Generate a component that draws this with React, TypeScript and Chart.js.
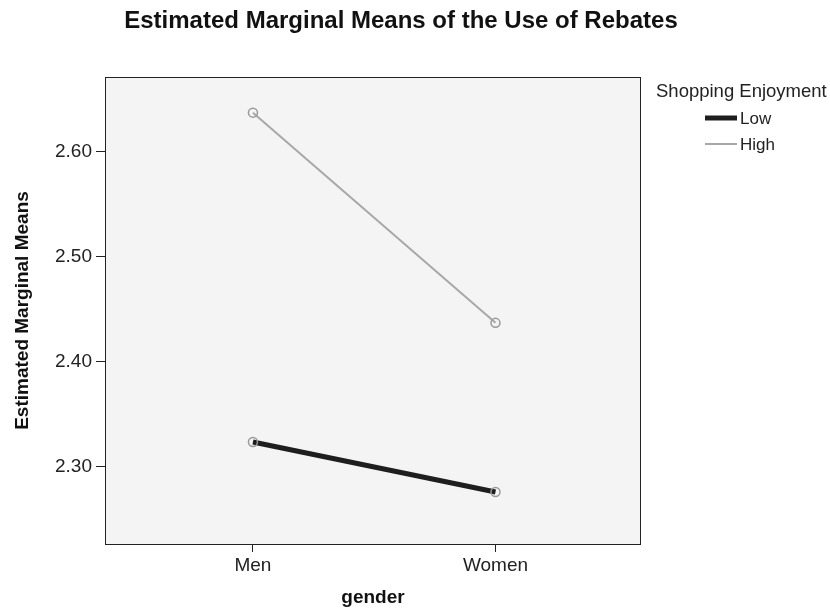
import React, { useEffect, useRef } from "react";
import { Chart, registerables } from "chart.js";

Chart.register(...registerables);

const categories = ["Men", "Women"];
const lowValues = [2.3238, 2.2762];
const highValues = [2.6371, 2.4371];
const yTickValues = [2.3, 2.4, 2.5, 2.6];
const seriesNames = ["Low", "High"];
const chartTitle = "Estimated Marginal Means of the Use of Rebates";
const legendTitle = "Shopping Enjoyment";
const FONT = "Arial, 'Liberation Sans', sans-serif";

export default function App() {
  const ref = useRef<HTMLCanvasElement | null>(null);

  useEffect(() => {
    const canvas = ref.current;
    if (!canvas) return;

    const framePlugin = {
      id: "frame",
      beforeDraw(chart: any) {
        const { ctx, chartArea } = chart;
        ctx.save();
        ctx.fillStyle = "#f3f4f3";
        ctx.fillRect(chartArea.left, chartArea.top, chartArea.right - chartArea.left, chartArea.bottom - chartArea.top);
        ctx.restore();
      },
      afterDraw(chart: any) {
        const { ctx, chartArea } = chart;
        ctx.save();
        ctx.strokeStyle = "#222";
        ctx.lineWidth = 1;
        ctx.strokeRect(chartArea.left + 0.5, chartArea.top + 0.5, chartArea.right - chartArea.left - 1, chartArea.bottom - chartArea.top);
        // title
        ctx.fillStyle = "#111";
        ctx.font = `bold 24px ${FONT}`;
        ctx.textAlign = "center";
        ctx.textBaseline = "middle";
        ctx.fillText(chartTitle, 401, 21);
        // legend
        ctx.font = `18.5px ${FONT}`;
        ctx.textAlign = "left";
        ctx.fillStyle = "#222";
        ctx.fillText(legendTitle, 656, 92);
        const ds = chart.data.datasets;
        const rows = [118, 144];
        ds.forEach((d: any, i: number) => {
          ctx.strokeStyle = d.borderColor;
          ctx.lineWidth = d.borderWidth;
          ctx.beginPath();
          ctx.moveTo(705, rows[i]);
          ctx.lineTo(737, rows[i]);
          ctx.stroke();
          ctx.fillStyle = "#222";
          ctx.font = `17px ${FONT}`;
          ctx.fillText(d.label, 740, rows[i] + 1);
        });
        ctx.restore();
      },
    };

    const chart = new Chart(canvas, {
      type: "line",
      data: {
        datasets: [
          {
            label: seriesNames[0],
            data: lowValues.map((v, i) => ({ x: i + 1, y: v })),
            borderColor: "#1e1e1e",
            borderWidth: 5,
            pointRadius: 4.5,
            pointBorderColor: "#999",
            pointBorderWidth: 1.5,
            pointBackgroundColor: "rgba(0,0,0,0)",
            tension: 0,
          },
          {
            label: seriesNames[1],
            data: highValues.map((v, i) => ({ x: i + 1, y: v })),
            borderColor: "#a8a8a8",
            borderWidth: 2,
            pointRadius: 4.5,
            pointBorderColor: "#999",
            pointBorderWidth: 1.5,
            pointBackgroundColor: "rgba(0,0,0,0)",
            tension: 0,
          },
        ],
      },
      options: {
        responsive: false,
        animation: false,
        layout: { padding: { top: 77, right: 189, bottom: 0, left: 0 } },
        plugins: {
          legend: { display: false },
          title: { display: false },
          tooltip: { enabled: false },
        },
        scales: {
          x: {
            type: "linear",
            min: 0.39,
            max: 2.6,
            afterBuildTicks(scale: any) {
              scale.ticks = categories.map((_, i) => ({ value: i + 1 }));
            },
            afterFit(scale: any) {
              scale.height = 65;
            },
            ticks: {
              color: "#222",
              font: { family: FONT, size: 19 },
              padding: 2,
              callback: (v: any) => categories[Math.round(Number(v)) - 1] ?? "",
            },
            grid: { drawOnChartArea: false, drawTicks: true, tickLength: 8, color: "#222" },
            border: { display: false },
            title: {
              display: true,
              text: "gender",
              color: "#111",
              font: { family: FONT, size: 19, weight: "bold" },
              padding: { top: 0, bottom: 0 },
            },
          },
          y: {
            type: "linear",
            min: 2.2267,
            max: 2.671,
            afterBuildTicks(scale: any) {
              scale.ticks = yTickValues.map((v) => ({ value: v }));
            },
            afterFit(scale: any) {
              scale.width = 105;
            },
            ticks: {
              color: "#222",
              font: { family: FONT, size: 19 },
              padding: 4,
              callback: (v: any) => Number(v).toFixed(2),
            },
            grid: { drawOnChartArea: false, drawTicks: true, tickLength: 9, color: "#222" },
            border: { display: false },
            title: {
              display: true,
              text: "Estimated Marginal Means",
              color: "#111",
              font: { family: FONT, size: 19, weight: "bold" },
              padding: { top: 11, bottom: 0 },
            },
          },
        },
      },
      plugins: [framePlugin],
    } as any);

    return () => chart.destroy();
  }, []);

  return (
    <div style={{ position: "absolute", left: 0, top: 0, width: 830, height: 609, background: "#fff" }}>
      <canvas ref={ref} width={830} height={609} />
    </div>
  );
}
